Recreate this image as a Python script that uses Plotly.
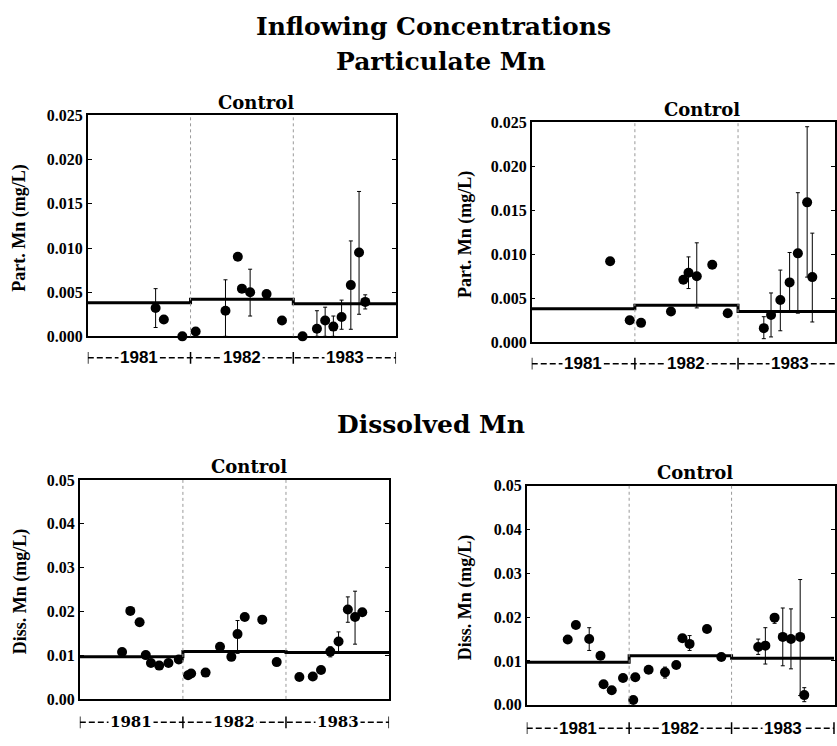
import plotly.graph_objects as go

# ---------------- data ----------------
years = [1981, 1982, 1983]
year_labels = ["1981", "1982", "1983"]

# Particulate Mn, left panel
pl_x = [1981.66, 1981.74, 1981.92, 1982.05, 1982.34, 1982.46, 1982.50, 1982.58, 1982.74,
        1982.89, 1983.09, 1983.23, 1983.31, 1983.39, 1983.47, 1983.56, 1983.64, 1983.70]
pl_y = [0.0032, 0.0019, 0.0000, 0.00055, 0.0029, 0.0090, 0.0054, 0.0050, 0.0048,
        0.0018, 0.0000, 0.00085, 0.0018, 0.0011, 0.0022, 0.0058, 0.0095, 0.0039]
pl_hi = [0.0054, None, None, None, 0.0064, None, None, 0.0076, None,
         None, None, 0.0029, 0.0033, 0.0023, 0.0041, 0.0108, 0.0164, 0.0047]
pl_lo = [0.0010, None, None, None, 0.0000, None, None, 0.0023, None,
         None, None, 0.0000, 0.0000, 0.0000, 0.0008, 0.0008, 0.0025, 0.0031]
pl_mean = [0.0038, 0.0042, 0.0037]

# Particulate Mn, right panel
pr_x = [1981.76, 1981.95, 1982.06, 1982.35, 1982.47, 1982.52, 1982.60, 1982.75, 1982.90,
        1983.25, 1983.32, 1983.41, 1983.50, 1983.58, 1983.67, 1983.72]
pr_y = [0.0092, 0.0025, 0.0022, 0.0035, 0.0071, 0.0079, 0.0075, 0.0088, 0.0033,
        0.0016, 0.0031, 0.0048, 0.0068, 0.0101, 0.0159, 0.0074]
pr_hi = [None, None, None, None, None, 0.0097, 0.0113, None, None,
         0.0029, 0.0056, 0.0082, 0.0102, 0.0170, 0.0245, 0.0124]
pr_lo = [None, None, None, None, None, 0.0061, 0.0039, None, None,
         0.0004, 0.0006, 0.0013, 0.0035, 0.0033, 0.0074, 0.0023]
pr_mean = [0.0038, 0.0042, 0.0035]

# Dissolved Mn, left panel
dl_x = [1981.41, 1981.49, 1981.58, 1981.64, 1981.69, 1981.77, 1981.86, 1981.96, 1982.05,
        1982.08, 1982.22, 1982.36, 1982.47, 1982.53, 1982.60, 1982.77, 1982.91, 1983.13,
        1983.26, 1983.34, 1983.43, 1983.51, 1983.60, 1983.67, 1983.74]
dl_y = [0.0107, 0.0201, 0.0175, 0.0100, 0.0082, 0.0076, 0.0082, 0.0090, 0.0054,
        0.0058, 0.0060, 0.0119, 0.0096, 0.0148, 0.0187, 0.0181, 0.0084, 0.0050,
        0.0051, 0.0066, 0.0108, 0.0131, 0.0204, 0.0187, 0.0198]
dl_hi = [None] * 13 + [0.0179] + [None] * 6 + [0.0119, 0.0153, 0.0233, 0.0246, None]
dl_lo = [None] * 13 + [0.0104] + [None] * 6 + [0.0096, 0.0108, 0.0175, 0.0125, None]
dl_mean = [0.0096, 0.0108, 0.0106]

# Dissolved Mn, right panel
dr_x = [1981.40, 1981.48, 1981.61, 1981.72, 1981.75, 1981.83, 1981.94, 1982.04, 1982.06,
        1982.19, 1982.35, 1982.46, 1982.52, 1982.59, 1982.76, 1982.90, 1983.26, 1983.33,
        1983.42, 1983.50, 1983.58, 1983.67, 1983.71]
dr_y = [0.0149, 0.0182, 0.0150, 0.0112, 0.0047, 0.0033, 0.0061, 0.0011, 0.0063,
        0.0080, 0.0074, 0.0091, 0.0152, 0.0139, 0.0173, 0.0109, 0.0132, 0.0135,
        0.0199, 0.0155, 0.0150, 0.0155, 0.0022]
dr_hi = [None, None, 0.0176, None, None, None, None, None, None,
         None, 0.0086, None, None, 0.0158, None, None, 0.0150, 0.0176,
         0.0206, 0.0221, 0.0219, 0.0286, 0.0039]
dr_lo = [None, None, 0.0124, None, None, None, None, None, None,
         None, 0.0061, None, None, 0.0124, None, None, 0.0115, 0.0093,
         0.0186, 0.0089, 0.0082, 0.0021, 0.0007]
dr_mean = [0.0097, 0.0112, 0.0106]

# ---------------- figure ----------------
W, H = 837, 746
SERIF = "DejaVu Serif"
LSERIF = "Liberation Serif"
SANS = "Liberation Sans"

def px_x(p):
    return p / W

def px_y(p):
    return 1 - p / H

panels = [
    dict(x=pl_x, y=pl_y, hi=pl_hi, lo=pl_lo, mean=pl_mean, sfx="", xd=(88, 397), yd=(110, 336),
         xr=[1981, 1984], ymax=0.025, fmt=".3f", dt=0.005, ylab="Part. Mn (mg/L)", labx=20,
         yrow=358, yfont=(SANS, 17), ctrl=(257, 97)),
    dict(x=pr_x, y=pr_y, hi=pr_hi, lo=pr_lo, mean=pr_mean, sfx="2", xd=(533, 837), yd=(117, 342),
         xr=[1981, 1983.94], ymax=0.025, fmt=".3f", dt=0.005, ylab="Part. Mn (mg/L)", labx=466,
         yrow=364, yfont=(SANS, 17), ctrl=(704, 104)),
    dict(x=dl_x, y=dl_y, hi=dl_hi, lo=dl_lo, mean=dl_mean, sfx="3", xd=(80, 390), yd=(483, 707),
         xr=[1981, 1984], ymax=0.05, fmt=".2f", dt=0.01, ylab="Diss. Mn (mg/L)", labx=20,
         yrow=731, yfont=(SERIF, 15), ctrl=(250, 469)),
    dict(x=dr_x, y=dr_y, hi=dr_hi, lo=dr_lo, mean=dr_mean, sfx="4", xd=(528, 837), yd=(489, 713),
         xr=[1981, 1984.01], ymax=0.05, fmt=".2f", dt=0.01, ylab="Diss. Mn (mg/L)", labx=466,
         yrow=737, yfont=(SANS, 17), ctrl=(697, 475)),
]

fig = go.Figure()
shapes = []
annotations = []

def ann(**kw):
    base = dict(showarrow=False, xanchor="center", yanchor="middle")
    base.update(kw)
    annotations.append(base)

for p in panels:
    xa = "x" + p["sfx"]
    ya = "y" + p["sfx"]
    step_x = years + [years[-1] + 1]
    step_y = p["mean"] + [p["mean"][-1]]
    fig.add_trace(go.Scatter(x=step_x, y=step_y, mode="lines", line=dict(color="black", width=3, shape="hv"),
                             xaxis=xa, yaxis=ya, showlegend=False, hoverinfo="skip"))
    up = [(h - v) if h is not None else 0 for h, v in zip(p["hi"], p["y"])]
    dn = [(v - l) if l is not None else 0 for l, v in zip(p["lo"], p["y"])]
    fig.add_trace(go.Scatter(x=p["x"], y=p["y"], mode="markers",
                             marker=dict(color="black", size=10),
                             error_y=dict(type="data", symmetric=False, array=up, arrayminus=dn,
                                          color="black", thickness=1, width=2),
                             xaxis=xa, yaxis=ya, showlegend=False, cliponaxis=False))
    for yr in years[1:]:
        shapes.append(dict(type="line", xref=xa, yref=ya + " domain", x0=yr, x1=yr, y0=0, y1=1,
                           line=dict(color="#999", width=1, dash="dot")))
    yrow = px_y(p["yrow"])
    x_end = min(years[-1] + 1, p["xr"][1])
    shapes.append(dict(type="line", xref=xa, yref="paper", x0=years[0], x1=x_end, y0=yrow, y1=yrow,
                       line=dict(color="black", width=1.5, dash="6px,3px")))
    for yr in years + [years[-1] + 1]:
        if yr <= p["xr"][1]:
            shapes.append(dict(type="line", xref=xa, yref="paper", x0=yr, x1=yr,
                               y0=yrow - 6 / H, y1=yrow + 6 / H, line=dict(color="black", width=1.5)))
    for yr, lab in zip(years, year_labels):
        ann(text="<b>" + lab + "</b>", xref=xa, yref="paper", x=yr + 0.5, y=yrow,
            bgcolor="white", borderpad=1,
            font=dict(family=p["yfont"][0], size=p["yfont"][1], color="black"))
    ann(text="<b>" + p["ylab"] + "</b>", xref="paper", yref="paper",
        x=px_x(p["labx"]), y=px_y((p["yd"][0] + p["yd"][1]) / 2 + 2),
        textangle=-90, font=dict(family=LSERIF, size=18, color="black"))
    ann(text="<b>Control</b>", xref="paper", yref="paper",
        x=px_x(p["ctrl"][0]), y=px_y(p["ctrl"][1]), font=dict(family=SERIF, size=18, color="black"))

    axis_common = dict(showline=True, linecolor="black", linewidth=1.5, mirror="ticks",
                       showgrid=False, zeroline=False)
    fig.update_layout(**{
        "xaxis" + p["sfx"]: dict(domain=[px_x(p["xd"][0]), px_x(p["xd"][1])], range=p["xr"],
                                 anchor=ya, showticklabels=False, ticks="", **axis_common),
        "yaxis" + p["sfx"]: dict(domain=[px_y(p["yd"][1]), px_y(p["yd"][0])], range=[0, p["ymax"]],
                                 anchor=xa, tickformat=p["fmt"], dtick=p["dt"], tick0=0,
                                 ticks="inside", ticklen=4, tickcolor="black",
                                 tickfont=dict(family=LSERIF, size=16, color="black", weight="bold"),
                                 **axis_common),
    })

ann(text="<b>Inflowing Concentrations</b>", xref="paper", yref="paper",
    x=px_x(435), y=px_y(19), font=dict(family=SERIF, size=25, color="black"))
ann(text="<b>Particulate Mn</b>", xref="paper", yref="paper",
    x=px_x(442), y=px_y(55), font=dict(family=SERIF, size=25, color="black"))
ann(text="<b>Dissolved Mn</b>", xref="paper", yref="paper",
    x=px_x(432), y=px_y(426), font=dict(family=SERIF, size=25, color="black"))

fig.update_layout(width=W, height=H, margin=dict(l=0, r=0, t=0, b=0),
                  paper_bgcolor="white", plot_bgcolor="white",
                  shapes=shapes, annotations=annotations, showlegend=False)

fig.write_html("out.html", config={"displayModeBar": False},
               post_script="document.body.style.margin='0';document.body.style.overflow='hidden';")
